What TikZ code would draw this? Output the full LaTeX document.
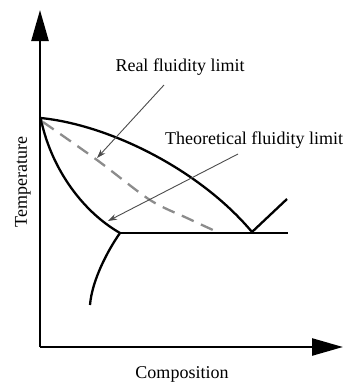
\documentclass[tikz,border=0pt]{standalone}
\usepackage{fontspec}
\setmainfont{Liberation Serif}
\usetikzlibrary{arrows.meta}
\tikzset{
  axis/.style={line width=2.5pt,-{Triangle[length=31pt,width=17pt]}},
  phase/.style={line width=2.3pt,line join=round},
  fluid/.style={line width=2.3pt,color=black!45,dash pattern=on 13pt off 8pt},
  pointer/.style={line width=0.9pt,color=black!70,-{Stealth[length=9pt,width=6pt]}},
  label/.style={font=\fontsize{18}{20}\selectfont,inner sep=0pt}
}
\begin{document}
\begin{tikzpicture}[x=1pt,y=-1pt]
\useasboundingbox (0,0) rectangle (346,383);
\fill[white] (0,0) rectangle (346,383);
% key points
\coordinate (O) at (40,347);
\coordinate (Ytip) at (40,10);
\coordinate (Xtip) at (343,347);
\coordinate (A) at (40.7,118);
\coordinate (E) at (252,232);
\coordinate (S) at (120,233);
\coordinate (Eend) at (288,233);
\coordinate (R) at (287,199);
\coordinate (V) at (90,305);
% axes
\draw[axis] (O) -- (Ytip);
\draw[axis] (O) -- (Xtip);
% liquidus
\draw[phase] (A) .. controls (110,125) and (200,170) .. (E);
% solidus
\draw[phase] (A) .. controls (50,165) and (80,210) .. (S);
% eutectic line
\draw[phase] (S) -- (Eend);
% right liquidus
\draw[phase] (E) -- (R);
% solvus
\draw[phase] (S) .. controls (108,250) and (92,280) .. (V);
% dashed real fluidity
\draw[fluid] plot[smooth] coordinates {(43,122) (97,160) (150,200) (187,218) (213,230)};
% labels
\node[label] (real) at (180,67) {Real fluidity limit};
\node[label] (theo) at (254,140) {Theoretical fluidity limit};
\node[label,rotate=90] (temp) at (23,182) {Temperature};
\node[label] (comp) at (182,374) {Composition};
% pointers
\coordinate (r1) at (164,85);
\coordinate (r2) at (97,158);
\coordinate (t1) at (238,154);
\coordinate (t2) at (108,221);
\draw[pointer] (r1) -- (r2);
\draw[pointer] (t1) -- (t2);
\end{tikzpicture}
\end{document}
